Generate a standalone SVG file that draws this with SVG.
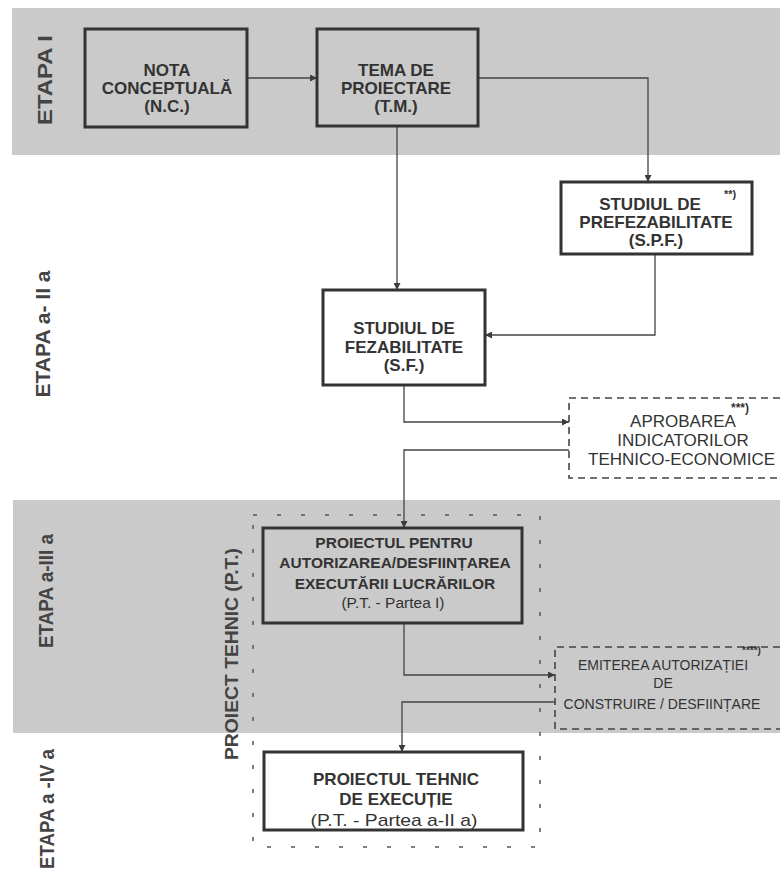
<svg xmlns="http://www.w3.org/2000/svg" width="780" height="884" viewBox="0 0 780 884">
<defs>
<marker id="ah" viewBox="0 0 8 8" refX="8" refY="4" markerWidth="7" markerHeight="7" markerUnits="userSpaceOnUse" orient="auto"><path d="M0,0 L8,4 L0,8 z" fill="#3c3c3c"/></marker>
<style>
.band{fill:#cacaca}
.box{fill:none;stroke:#333;stroke-width:3}
.wbox{fill:#fff;stroke:#333;stroke-width:3}
.dbox{fill:none;stroke:#444;stroke-width:1.6;stroke-dasharray:7 5}
.pt{fill:none;stroke:#555;stroke-width:1.5;stroke-dasharray:4 20}
.conn{fill:none;stroke:#444;stroke-width:1.3;marker-end:url(#ah)}
text{font-family:"Liberation Sans",Arial,sans-serif;fill:#333}
.b{font-weight:bold;font-size:17px;text-anchor:middle}
.bs{font-weight:bold;font-size:15.5px;text-anchor:middle}
.r{font-size:17px;text-anchor:middle}
.rs{font-size:14px;text-anchor:middle}
.lab{font-weight:bold;font-size:20px;text-anchor:middle;fill:#444}
.sup{font-weight:bold;font-size:11px}
</style>
</defs>

<g id="bands">
<rect class="band" x="12" y="8" width="768" height="147"/>
<rect class="band" x="13" y="500" width="767" height="233"/>
</g>

<g id="labels">
<text class="lab" transform="translate(52,80) rotate(-90)" textLength="90" lengthAdjust="spacingAndGlyphs">ETAPA I</text>
<text class="lab" transform="translate(50,334) rotate(-90)" textLength="127" lengthAdjust="spacingAndGlyphs">ETAPA a- II a</text>
<text class="lab" transform="translate(53,591) rotate(-90)" textLength="114" lengthAdjust="spacingAndGlyphs">ETAPA a-III a</text>
<text class="lab" transform="translate(54,809) rotate(-90)" textLength="120" lengthAdjust="spacingAndGlyphs">ETAPA a -IV a</text>
</g>

<g id="pt-group">
<rect class="pt" x="253" y="515" width="287" height="332"/>
<text class="lab" style="font-size:19px" transform="translate(238,654) rotate(-90)" textLength="212" lengthAdjust="spacingAndGlyphs">PROIECT TEHNIC (P.T.)</text>
</g>

<g id="connectors">
<path class="conn" d="M247,78 H317"/>
<path class="conn" d="M478,78 H648 V182"/>
<path class="conn" d="M397,126 V290"/>
<path class="conn" d="M655,254 V335 H485"/>
<path class="conn" d="M404,385 V422 H569"/>
<path class="conn" d="M569,450 H404 V528"/>
<path class="conn" d="M404,623 V675 H555"/>
<path class="conn" d="M555,702 H402 V752"/>
</g>

<g id="nc">
<rect class="box" x="85" y="29" width="162" height="98"/>
<text class="b" x="167" y="76">NOTA</text>
<text class="b" x="167" y="94">CONCEPTUALĂ</text>
<text class="b" x="167" y="112">(N.C.)</text>
</g>

<g id="tm">
<rect class="box" x="317" y="29" width="161" height="97"/>
<text class="b" x="396" y="76">TEMA DE</text>
<text class="b" x="396" y="94">PROIECTARE</text>
<text class="b" x="396" y="112">(T.M.)</text>
</g>

<g id="spf">
<rect class="wbox" x="561" y="182" width="191" height="72"/>
<text class="b" x="650" y="210">STUDIUL DE</text>
<text class="sup" x="724" y="198">**)</text>
<text class="b" x="656" y="228">PREFEZABILITATE</text>
<text class="b" x="656" y="246">(S.P.F.)</text>
</g>

<g id="sf">
<rect class="wbox" x="323" y="290" width="162" height="95"/>
<text class="b" x="404" y="334">STUDIUL DE</text>
<text class="b" x="404" y="353">FEZABILITATE</text>
<text class="b" x="404" y="371">(S.F.)</text>
</g>

<g id="aprobarea">
<path class="dbox" d="M780,398 H569 V478 H780"/>
<text class="r" x="683" y="427">APROBAREA</text>
<text class="sup" x="731" y="412" style="font-size:12px">***)</text>
<text class="r" x="683" y="446">INDICATORILOR</text>
<text class="r" x="588" y="465" style="text-anchor:start">TEHNICO-ECONOMICE</text>
</g>

<g id="pt1">
<rect class="box" x="263" y="528" width="259" height="95"/>
<text class="bs" x="394" y="548">PROIECTUL PENTRU</text>
<text class="bs" x="395" y="568">AUTORIZAREA/DESFIINȚAREA</text>
<text class="bs" x="395" y="589">EXECUTĂRII LUCRĂRILOR</text>
<text class="r" x="393" y="608" style="font-size:15.5px">(P.T. - Partea I)</text>
</g>

<g id="emiterea">
<path class="dbox" d="M780,647 H555 V729 H780"/>
<text class="rs" x="663" y="670">EMITEREA AUTORIZAȚIEI</text>
<text class="sup" x="742" y="654" style="font-size:10px">****)</text>
<text class="rs" x="663" y="688">DE</text>
<text class="rs" x="662" y="709">CONSTRUIRE / DESFIINȚARE</text>
</g>

<g id="pte">
<rect class="wbox" x="264" y="752" width="259" height="78"/>
<text class="b" x="396" y="785">PROIECTUL TEHNIC</text>
<text class="b" x="396" y="805">DE EXECUȚIE</text>
<text class="r" x="394" y="826" textLength="167" lengthAdjust="spacingAndGlyphs">(P.T. - Partea a-II a)</text>
</g>
</svg>
